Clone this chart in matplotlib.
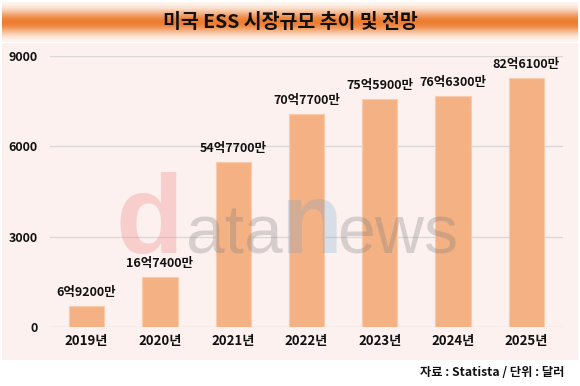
import numpy as np
import matplotlib
matplotlib.use('Agg')
import matplotlib.pyplot as plt
from matplotlib.patches import Rectangle

plt.rcParams['font.family'] = ['Noto Sans CJK KR', 'DejaVu Sans']

years = ['2019년', '2020년', '2021년', '2022년', '2023년', '2024년', '2025년']
values = [692, 1674, 5477, 7077, 7559, 7663, 8261]  # 백만 달러
labels = ['6억9200만', '16억7400만', '54억7700만', '70억7700만',
          '75억5900만', '76억6300만', '82억6100만']
yticks = [0, 3000, 6000, 9000]

W, H = 580, 386
fig = plt.figure(figsize=(W / 100, H / 100), dpi=100)
fig.patch.set_facecolor('white')

# pink panel behind the chart
fig.patches.append(Rectangle((2 / W, (H - 360) / H), 576 / W, 317 / H,
                             transform=fig.transFigure, facecolor='#FCF1EE',
                             edgecolor='none', zorder=-5))

# title banner with vertical gradient
bax = fig.add_axes([2 / W, (H - 42) / H, 576 / W, 40 / H])
t = np.linspace(0, 1, 100)
w = np.exp(-((t - 0.5) / 0.3) ** 2)
orange = np.array([0.93, 0.49, 0.19])
grad = 1 - w[:, None] * (1 - orange[None, :])
bax.imshow(grad[:, None, :], aspect='auto', extent=[0, 1, 0, 1])
bax.axis('off')
bax.text(0.5, 0.5, '미국 ESS 시장규모 추이 및 전망', ha='center', va='center',
         fontsize=14, fontweight='bold', color='#111111')

# main axes
ax = fig.add_axes([50 / W, (H - 327) / H, 513 / W, 271 / H])
ax.set_facecolor('none')
x = np.arange(len(years))
ax.bar(x, values, width=0.48, color='#F4B183', edgecolor='#F8CBAD',
       linewidth=0.8, zorder=2)
for xi, v, lab in zip(x, values, labels):
    ax.text(xi, v + 230, lab, ha='center', va='bottom', fontsize=9,
            fontweight='bold', color='#111111')

ax.set_xlim(-0.5, len(years) - 0.5)
ax.set_ylim(0, 9000)
ax.set_yticks(yticks)
ax.set_yticklabels([str(v) for v in yticks], fontsize=9, fontweight='bold')
ax.set_xticks(x)
ax.set_xticklabels(years, fontsize=9.5, fontweight='bold')
ax.tick_params(length=0, colors='#111111')
ax.tick_params(axis='x', pad=5)
ax.tick_params(axis='y', pad=9)
ax.grid(axis='y', color='#D9D9D9', linewidth=1, zorder=0)
for s in ax.spines.values():
    s.set_visible(False)

# watermark
wm = [('d', 116, 80, 'bold', '#F08080', 0.3),
      ('ata', 186, 50, 'normal', '#7F7F7F', 0.3),
      ('n', 280, 73, 'bold', '#5B9BD5', 0.22),
      ('ews', 337, 49, 'normal', '#7F7F7F', 0.3)]
for txt, px, fs, fw, col, a in wm:
    fig.text(px / W, (H - 253) / H, txt, fontsize=fs, fontweight=fw,
             family='Liberation Sans', color=col, alpha=a, ha='left',
             va='baseline', zorder=5)

fig.text(564 / W, (H - 373) / H, '자료 : Statista / 단위 : 달러', ha='right',
         va='center', fontsize=8.8, fontweight='bold', color='#111111')

fig.savefig('out.png', dpi=100)
